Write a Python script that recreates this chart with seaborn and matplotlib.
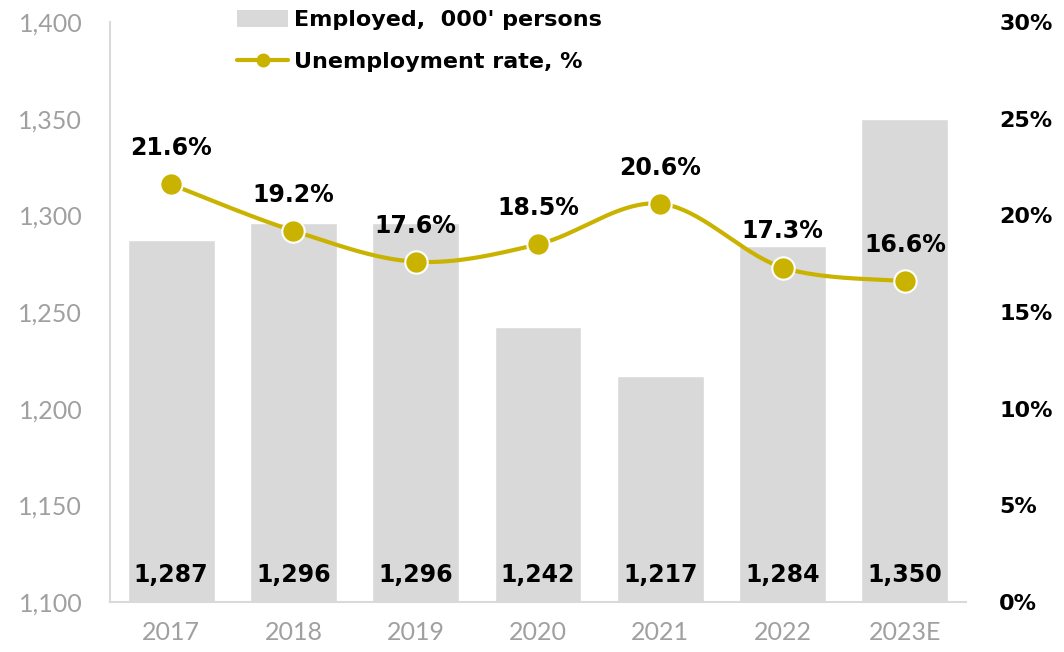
import numpy as np
import pandas as pd
import matplotlib
matplotlib.use("Agg")
import matplotlib.pyplot as plt
from matplotlib.lines import Line2D
from matplotlib.patches import Patch
import seaborn as sns

# Data
years = ["2017", "2018", "2019", "2020", "2021", "2022", "2023E"]
employed = [1287, 1296, 1296, 1242, 1217, 1284, 1350]
unemployment = [21.6, 19.2, 17.6, 18.5, 20.6, 17.3, 16.6]
left_ticks = [1100, 1150, 1200, 1250, 1300, 1350, 1400]
right_ticks = [0, 5, 10, 15, 20, 25, 30]

BAR_COLOR = "#d9d9d9"
LINE_COLOR = "#c9b300"
TICK_COLOR = "#a0a0a0"

sns.set_theme(style="white")
plt.rcParams["font.family"] = ["Lato", "DejaVu Sans"]
plt.rcParams["text.color"] = "black"

df = pd.DataFrame({"year": years, "employed": employed, "rate": unemployment})

fig = plt.figure(figsize=(10.64, 6.52), dpi=100)
ax = fig.add_axes([0.1034, 0.0767, 0.8045, 0.8896])

sns.barplot(data=df, x="year", y="employed", color=BAR_COLOR, width=0.71,
            saturation=1, ax=ax, zorder=1)
ax.set_ylim(left_ticks[0], left_ticks[-1])
ax.set_xlim(-0.5, len(years) - 0.5)
ax.set_yticks(left_ticks)
ax.set_yticklabels([f"{v:,}" for v in left_ticks])
ax.set_xlabel("")
ax.set_ylabel("")
ax.tick_params(axis="both", length=0, labelsize=18, labelcolor=TICK_COLOR)
ax.tick_params(axis="y", pad=20)
ax.tick_params(axis="x", pad=14)
for side in ["top", "right"]:
    ax.spines[side].set_visible(False)
for side in ["left", "bottom"]:
    ax.spines[side].set_color("#d9d9d9")
    ax.spines[side].set_linewidth(1.5)

# Value labels inside the bottom of each bar
for i, v in enumerate(employed):
    ax.text(i, 1114, f"{v:,}", ha="center", va="center", fontsize=17,
            fontweight="bold", color="black", family=["DejaVu Sans"])

# Secondary axis for the unemployment rate
ax2 = ax.twinx()
ax2.set_ylim(right_ticks[0], right_ticks[-1])
ax2.set_yticks(right_ticks)
ax2.set_yticklabels([f"{v}%" for v in right_ticks])
ax2.tick_params(axis="y", length=0, labelsize=16, pad=24, labelcolor="black")
for lbl in ax2.get_yticklabels():
    lbl.set_fontweight("bold")
    lbl.set_family(["DejaVu Sans"])
for side in ["top", "right", "left", "bottom"]:
    ax2.spines[side].set_visible(False)
ax2.grid(False)
ax.grid(False)

# Smoothed line through the points (Catmull-Rom style Bezier segments)
xs = np.arange(len(years), dtype=float)
ys = np.array(unemployment, dtype=float)
pts = np.column_stack([xs, ys])
ext = np.vstack([pts[0], pts, pts[-1]])
t = np.linspace(0, 1, 40)[:, None]
curve = []
for i in range(len(pts) - 1):
    p0, p1, p2, p3 = ext[i], ext[i + 1], ext[i + 2], ext[i + 3]
    c1 = p1 + (p2 - p0) / 6
    c2 = p2 - (p3 - p1) / 6
    seg = ((1 - t) ** 3) * p1 + 3 * ((1 - t) ** 2) * t * c1 + 3 * (1 - t) * t ** 2 * c2 + t ** 3 * p2
    curve.append(seg if i == 0 else seg[1:])
curve = np.vstack(curve)
ax2.plot(curve[:, 0], curve[:, 1], color=LINE_COLOR, lw=3, zorder=3,
         solid_capstyle="round")
sns.scatterplot(x=xs, y=ys, ax=ax2, s=260, color=LINE_COLOR, edgecolor="white",
                linewidth=1.5, zorder=4, legend=False)

for i, v in enumerate(unemployment):
    ax2.annotate(f"{v}%", (i, v), xytext=(0, 26), textcoords="offset points",
                 ha="center", va="center", fontsize=17, fontweight="bold",
                 color="black", family=["DejaVu Sans"])

# Legend
handles = [
    Patch(facecolor=BAR_COLOR, edgecolor="none"),
    Line2D([0], [0], color=LINE_COLOR, lw=3, marker="o", markersize=9,
           markerfacecolor=LINE_COLOR, markeredgecolor=LINE_COLOR),
]
labels = ["Employed,  000' persons", "Unemployment rate, %"]
leg = fig.legend(handles, labels, loc="upper left", bbox_to_anchor=(0.204, 1.015),
                 frameon=False, handlelength=2.3, handleheight=0.75,
                 handletextpad=0.25, labelspacing=1.0,
                 prop={"size": 16, "weight": "bold", "family": ["DejaVu Sans"]})
for txt in leg.get_texts():
    txt.set_color("black")

fig.savefig("out.png", dpi=100)
